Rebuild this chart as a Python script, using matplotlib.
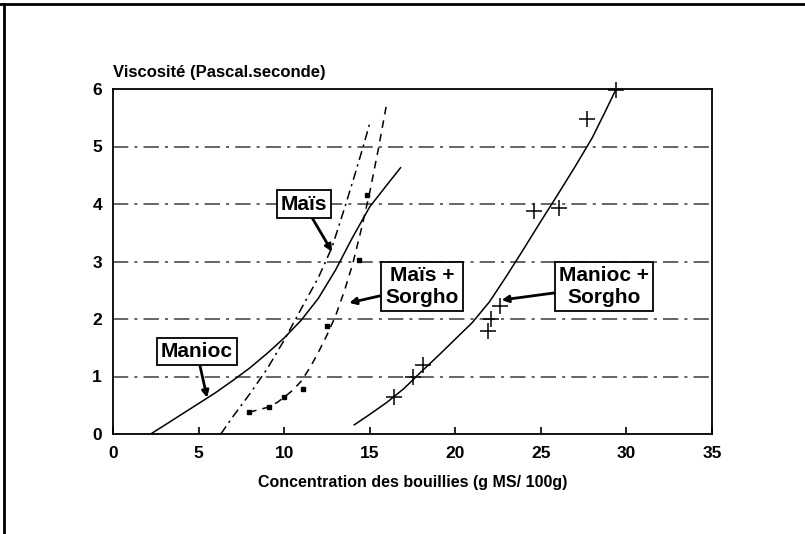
import matplotlib
matplotlib.use("Agg")
import matplotlib.pyplot as plt
from matplotlib.lines import Line2D

plt.rcParams['font.family'] = ['Liberation Sans', 'DejaVu Sans']
plt.rcParams['font.weight'] = 'bold'

# Viscosity curves (Pa.s) vs. porridge concentration (g DM / 100 g)
manioc_x = [2.2, 3.0, 4.0, 5.0, 6.0, 7.0, 8.0, 9.0, 10.0, 11.0, 12.0, 13.0, 14.0, 15.0, 16.0, 16.8]
manioc_y = [0.0, 0.15, 0.34, 0.53, 0.72, 0.93, 1.15, 1.4, 1.67, 1.98, 2.36, 2.85, 3.42, 3.95, 4.33, 4.63]

mais_x = [6.3, 7.0, 8.0, 9.0, 10.0, 11.0, 12.0, 12.8, 13.5, 14.1, 14.6, 15.0]
mais_y = [0.0, 0.3, 0.7, 1.13, 1.63, 2.18, 2.72, 3.25, 3.9, 4.48, 4.98, 5.4]

mais_sorgho_x = [7.95, 8.5, 9.1, 9.6, 10.0, 10.5, 11.0, 11.5, 12.0, 12.5, 13.0, 13.5,
                 14.0, 14.5, 15.0, 15.5, 16.0]
mais_sorgho_y = [0.38, 0.42, 0.47, 0.55, 0.64, 0.76, 0.92, 1.15, 1.42, 1.72, 2.05, 2.47,
                 2.95, 3.55, 4.2, 4.95, 5.76]
mais_sorgho_pts_x = [7.95, 9.1, 10.0, 11.1, 12.5, 14.4, 14.85]
mais_sorgho_pts_y = [0.38, 0.47, 0.64, 0.78, 1.87, 3.03, 4.15]

manioc_sorgho_x = [14.1, 15.0, 16.0, 17.0, 18.0, 19.0, 20.0, 21.0, 22.0, 23.0, 24.0,
                   25.0, 26.0, 27.0, 28.0, 28.7, 29.4]
manioc_sorgho_y = [0.16, 0.34, 0.55, 0.79, 1.08, 1.36, 1.65, 1.94, 2.3, 2.75, 3.22,
                   3.7, 4.17, 4.65, 5.15, 5.57, 6.0]
manioc_sorgho_pts_x = [16.4, 17.5, 18.1, 21.9, 22.1, 22.6, 24.6, 26.05, 27.7, 29.4]
manioc_sorgho_pts_y = [0.64, 1.0, 1.2, 1.79, 2.0, 2.23, 3.88, 3.93, 5.48, 5.98]

x_ticks = [0, 5, 10, 15, 20, 25, 30, 35]
y_ticks = [0, 1, 2, 3, 4, 5, 6]

fig = plt.figure(figsize=(8.05, 5.34), dpi=100)
ax = fig.add_axes([113 / 805, 1 - 434 / 534, (712 - 113) / 805, (434 - 89) / 534])

# horizontal reference lines
for yv in y_ticks[1:-1]:
    ax.axhline(yv, color='#3a3a3a', lw=1.1, linestyle=(0, (10, 4, 2, 4)), zorder=1)

ax.plot(manioc_x, manioc_y, color='black', lw=1.1, zorder=3)
ax.plot(mais_x, mais_y, color='black', lw=1.1, linestyle=(0, (6, 3, 1.5, 3)), zorder=3)
ax.plot(mais_sorgho_x, mais_sorgho_y, color='black', lw=1.1, linestyle=(0, (5, 4)), zorder=3)
ax.plot(mais_sorgho_pts_x, mais_sorgho_pts_y, linestyle='none', marker='s',
        markersize=3.2, color='black', zorder=4)
ax.plot(manioc_sorgho_x, manioc_sorgho_y, color='black', lw=1.1, zorder=3)
ax.plot(manioc_sorgho_pts_x, manioc_sorgho_pts_y, linestyle='none', marker='+',
        markersize=12, markeredgewidth=1.1, color='black', zorder=4, clip_on=False)

ax.set_xlim(0, 35)
ax.set_ylim(0, 6)
ax.set_xticks(x_ticks)
ax.set_yticks(y_ticks)
ax.tick_params(axis='x', direction='in', length=5, width=1.2, pad=9, labelsize=12.5)
ax.tick_params(axis='y', length=0, pad=8, labelsize=12.5)
for lab in ax.get_xticklabels() + ax.get_yticklabels():
    lab.set_fontweight('bold')
for s in ax.spines.values():
    s.set_linewidth(1.3)
    s.set_color('black')

box = dict(boxstyle='square,pad=0.2', fc='white', ec='black', lw=1.3)
arrow = dict(arrowstyle='-|>', color='black', lw=2.0, mutation_scale=10,
             shrinkA=0, shrinkB=0)
labels = [
    ("Maïs", (12.8, 3.17), (11.16, 4.0)),
    ("Manioc", (5.5, 0.63), (4.9, 1.43)),
    ("Maïs +\nSorgho", (13.8, 2.28), (18.06, 2.57)),
    ("Manioc +\nSorgho", (22.7, 2.33), (28.7, 2.57)),
]
for txt, tip, pos in labels:
    ax.annotate(txt, xy=tip, xytext=pos, ha='center', va='center',
                fontsize=15, fontweight='bold', bbox=box, arrowprops=arrow,
                multialignment='center', zorder=6)

fig.text(113 / 805, 1 - 73 / 534, "Viscosité (Pascal.seconde)", ha='left', va='center',
         fontsize=12, fontweight='bold')
fig.text((113 + 712) / 2 / 805, 1 - 483 / 534, "Concentration des bouillies (g MS/ 100g)",
         ha='center', va='center', fontsize=11.5, fontweight='bold')

# page frame edges
fig.add_artist(Line2D([0, 1], [1 - 4 / 534, 1 - 4 / 534], transform=fig.transFigure,
                      color='black', lw=2))
fig.add_artist(Line2D([4 / 805, 4 / 805], [0, 1 - 4 / 534], transform=fig.transFigure,
                      color='black', lw=2))

fig.savefig('out.png', dpi=100)
